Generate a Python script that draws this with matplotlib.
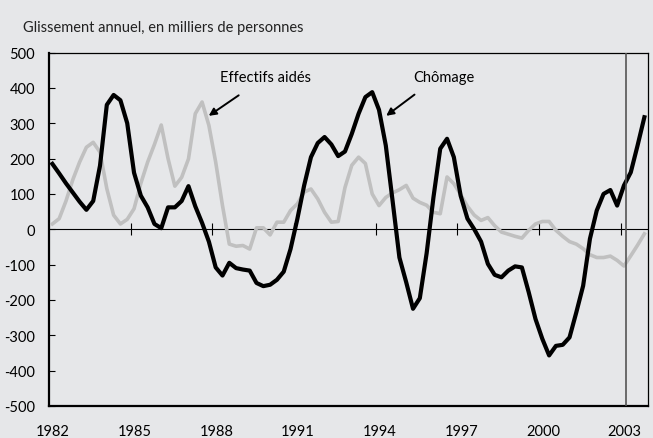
import numpy as np
import matplotlib
matplotlib.use('Agg')
import matplotlib.pyplot as plt
from matplotlib import transforms

# quarterly data, 1982Q1 .. 2003Q4 (glissement annuel, milliers)
start_year = 1982
chomage = [185, 158, 130, 104, 78, 55, 80, 180, 352, 380, 365, 300, 160, 95, 62, 15,
           3, 62, 62, 80, 122, 65, 18, -35, -108, -131, -95, -110, -114, -117, -152, -161,
           -157, -143, -120, -56, 29, 124, 204, 244, 261, 240, 207, 220, 270, 327, 374, 388,
           338, 237, 80, -80, -150, -225, -195, -68, 90, 228, 256, 204, 95, 30, 0, -35,
           -98, -129, -136, -117, -105, -108, -178, -254, -310, -357, -330, -327, -306, -235, -160, -27,
           53, 100, 111, 67, 124, 161, 237, 317]
effectifs_aides = [15, 30, 80, 140, 190, 232, 246, 218, 115, 40, 15, 28, 58, 130, 190, 240,
                   295, 200, 122, 147, 199, 327, 360, 294, 190, 67, -42, -48, -46, -56, 4, 4,
                   -16, 20, 20, 53, 72, 105, 114, 86, 48, 20, 22, 118, 181, 204, 186, 100,
                   67, 90, 103, 112, 124, 88, 76, 68, 48, 44, 148, 129, 98, 65, 40, 25,
                   33, 10, -8, -14, -20, -25, -3, 15, 22, 22, -3, -20, -35, -42, -55, -72,
                   -80, -80, -76, -88, -104, -75, -45, -13]
tick_years = [1982, 1985, 1988, 1991, 1994, 1997, 2000, 2003]
y_ticks = [-500, -400, -300, -200, -100, 0, 100, 200, 300, 400, 500]
vline_year = 2003.2

bg = '#e6e7e9'
font = ['Lato', 'DejaVu Sans']

x = start_year + (np.arange(len(chomage)) + 0.5) / 4.0

fig = plt.figure(figsize=(6.53, 4.39), dpi=100, facecolor=bg)
ax = fig.add_axes([0.075, 0.073, 0.917, 0.805], facecolor=bg)

ax.plot(x, effectifs_aides, color='#c0c0c0', lw=2.6, solid_joinstyle='round', zorder=3)
ax.plot(x, chomage, color='black', lw=3.0, solid_joinstyle='round', zorder=4)

# zero line with year ticks on it
ax.axhline(0, color='black', lw=0.8, zorder=2)
ax.plot(tick_years[1:], [0] * (len(tick_years) - 1), ls='none', marker='|',
        ms=8, mew=0.8, color='black', zorder=2)
ax.axvline(vline_year, color='#555555', lw=1.2, zorder=5)

ax.set_xlim(1982, 2004)
ax.set_ylim(-500, 500)
ax.set_yticks(y_ticks)
ax.set_yticklabels([str(v) for v in y_ticks], family=font, fontsize=10.5)
ax.set_xticks(tick_years)
ax.set_xticklabels([str(v) for v in tick_years], family=font, fontsize=10.5)
ax.tick_params(axis='y', direction='in', length=4, width=0.8, pad=10)
ax.tick_params(axis='x', length=0, pad=13)
shift = transforms.ScaledTranslation(4 / 100, 0, fig.dpi_scale_trans)
for lab in ax.get_xticklabels():
  lab.set_transform(lab.get_transform() + shift)

for side in ['left', 'bottom']:
  ax.spines[side].set_linewidth(1.6)
for side in ['top', 'right']:
  ax.spines[side].set_linewidth(0.9)

arrow = dict(arrowstyle='-|>', lw=1.4, color='black', mutation_scale=11,
             shrinkA=0, shrinkB=0)
ax.annotate('', xy=(1987.87, 321), xytext=(1988.97, 379), arrowprops=arrow, zorder=6)
ax.annotate('', xy=(1994.39, 321), xytext=(1995.43, 381), arrowprops=arrow, zorder=6)
ax.text(1989.96, 432, 'Effectifs aidés', ha='center', va='center',
        family=font, fontsize=10.5)
ax.text(1996.5, 432, 'Chômage', ha='center', va='center',
        family=font, fontsize=10.5)

fig.text(0.035, 0.936, 'Glissement annuel, en milliers de personnes',
         ha='left', va='center', family=font, fontsize=10.5, color='#222222')

fig.savefig('out.png', dpi=100, facecolor=bg)
